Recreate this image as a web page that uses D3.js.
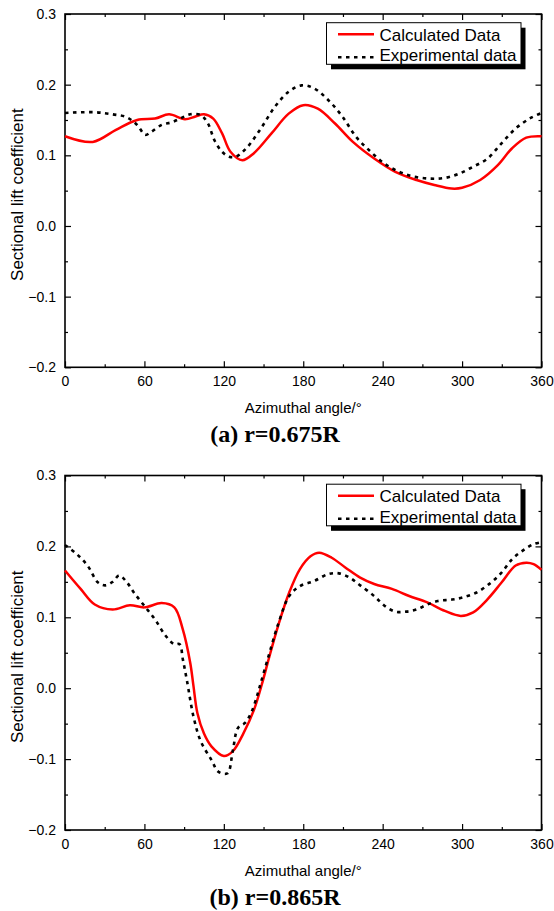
<!DOCTYPE html>
<html>
<head>
<meta charset="utf-8">
<script src="https://cdn.jsdelivr.net/npm/d3@7/dist/d3.min.js"></script>
<style>
  html, body { margin: 0; padding: 0; background: #fff; }
  svg { display: block; }
</style>
</head>
<body>
<svg id="fig" width="554" height="911"></svg>
<script>
// ---- data: sectional lift coefficient vs azimuthal angle ----
const xTicks = [0, 60, 120, 180, 240, 300, 360];
const yTicks = [-0.2, -0.1, 0.0, 0.1, 0.2, 0.3];
const legendLabels = ["Calculated Data", "Experimental data"];
const captions = ["(a) r=0.675R", "(b) r=0.865R"];

// (a) r = 0.675R
const aCalcAngle = [0, 21, 38.5, 54.5, 68, 78.6, 90.6, 98.6, 105, 112, 118.7, 125, 134, 142.7, 156, 169, 180, 191, 204, 217.5, 233.6, 249.6, 265.6, 279, 292, 300, 313.7, 327, 337.8, 348.5, 360];
const aCalcCl    = [0.127, 0.119, 0.136, 0.150, 0.152, 0.158, 0.151, 0.155, 0.158, 0.152, 0.131, 0.105, 0.093, 0.103, 0.131, 0.159, 0.171, 0.166, 0.145, 0.119, 0.0955, 0.0766, 0.065, 0.058, 0.053, 0.054, 0.065, 0.086, 0.110, 0.125, 0.127];
const aExpAngle  = [0, 22.5, 36, 46.5, 54.5, 60.7, 65, 73, 81, 88, 94.6, 102.6, 108, 113, 118.7, 124, 129, 137, 148, 158.7, 169, 178.8, 188, 199, 209.5, 220, 231, 241.6, 252, 263, 276, 287, 297.7, 308.4, 319, 329.8, 340.5, 351, 360];
const aExpCl     = [0.160, 0.161, 0.158, 0.154, 0.143, 0.129, 0.133, 0.143, 0.147, 0.153, 0.158, 0.157, 0.145, 0.121, 0.105, 0.098, 0.098, 0.110, 0.138, 0.169, 0.190, 0.199, 0.195, 0.178, 0.155, 0.126, 0.105, 0.088, 0.077, 0.070, 0.067, 0.068, 0.074, 0.084, 0.095, 0.117, 0.138, 0.152, 0.160];

// (b) r = 0.865R
const bCalcAngle = [0, 11.8, 22.5, 36, 49, 60, 73, 82.6, 89, 94.6, 97, 100, 105, 110.6, 120, 126.7, 134.7, 142.7, 149.4, 153, 161, 169.4, 177.5, 185.5, 192, 201.5, 212, 223, 233.6, 247, 260, 273.7, 287, 299, 308.4, 319, 329.8, 340.5, 348.5, 354, 360];
const bCalcCl    = [0.166, 0.140, 0.118, 0.111, 0.117, 0.114, 0.120, 0.114, 0.083, 0.036, 0.004, -0.035, -0.064, -0.082, -0.0955, -0.089, -0.064, -0.031, 0.010, 0.035, 0.088, 0.135, 0.168, 0.186, 0.191, 0.184, 0.170, 0.156, 0.147, 0.140, 0.130, 0.121, 0.109, 0.102, 0.107, 0.125, 0.149, 0.173, 0.177, 0.175, 0.167];
const bExpAngle  = [0, 9, 17, 25, 30.5, 36, 41, 46.5, 52, 60, 68, 76, 82.6, 86.6, 89, 92, 97.3, 102.6, 110.6, 116, 122.7, 126.7, 130.7, 136, 140.6, 145.4, 148, 153, 161, 169.4, 177.5, 188, 199, 207, 215, 223, 233.6, 241.6, 249.6, 257.7, 265.6, 273.7, 281.7, 292.4, 300.4, 311, 321.8, 329.8, 337.8, 345.8, 353.8, 360];
const bExpCl     = [0.202, 0.189, 0.173, 0.149, 0.145, 0.150, 0.159, 0.150, 0.135, 0.116, 0.097, 0.074, 0.062, 0.062, 0.041, 0.012, -0.042, -0.075, -0.101, -0.118, -0.120, -0.089, -0.056, -0.049, -0.035, -0.009, 0.008, 0.040, 0.090, 0.130, 0.144, 0.151, 0.161, 0.162, 0.156, 0.145, 0.130, 0.116, 0.108, 0.108, 0.111, 0.118, 0.123, 0.125, 0.128, 0.135, 0.149, 0.163, 0.182, 0.194, 0.203, 0.206];

const panels = [
  { top: 14,    bottom: 367.3, calc: [aCalcAngle, aCalcCl], exp: [aExpAngle, aExpCl], caption: captions[0] },
  { top: 475.5, bottom: 830,   calc: [bCalcAngle, bCalcCl], exp: [bExpAngle, bExpCl], caption: captions[1] }
];

const svg = d3.select("#fig");
const left = 65, right = 541.5;
const sans = "Arial, 'Liberation Sans', sans-serif";
const serif = "'Times New Roman', 'Liberation Serif', serif";

panels.forEach(p => {
  const x = d3.scaleLinear().domain([0, 360]).range([left, right]);
  const y = d3.scaleLinear().domain([-0.2, 0.3]).range([p.bottom, p.top]);
  const g = svg.append("g");

  const xMinor = d3.range(30, 360, 60);
  const yMinor = d3.range(-0.15, 0.3, 0.1);

  // inward ticks on all four sides
  const axes = [
    d3.axisBottom(x).tickValues(xTicks).tickSize(-6).tickPadding(9).tickFormat(d3.format("d")),
    d3.axisTop(x).tickValues(xTicks).tickSize(-6).tickFormat(""),
    d3.axisLeft(y).tickValues(yTicks).tickSize(-6).tickPadding(9).tickFormat(d3.format(".1f")),
    d3.axisRight(y).tickValues(yTicks).tickSize(-6).tickFormat("")
  ];
  const minors = [
    d3.axisBottom(x).tickValues(xMinor).tickSize(-3).tickFormat(""),
    d3.axisTop(x).tickValues(xMinor).tickSize(-3).tickFormat(""),
    d3.axisLeft(y).tickValues(yMinor).tickSize(-3).tickFormat(""),
    d3.axisRight(y).tickValues(yMinor).tickSize(-3).tickFormat("")
  ];
  const trans = [
    `translate(0,${p.bottom})`, `translate(0,${p.top})`,
    `translate(${left},0)`, `translate(${right},0)`
  ];
  axes.forEach((a, i) => {
    const ag = g.append("g").attr("transform", trans[i]).call(a);
    ag.select(".domain").remove();
    ag.selectAll(".tick line").attr("stroke", "#000").attr("stroke-width", 1.2);
    ag.selectAll("text").attr("font-family", sans).attr("font-size", 14).attr("fill", "#000");
    g.append("g").attr("transform", trans[i]).call(minors[i])
      .call(s => s.select(".domain").remove())
      .selectAll(".tick line").attr("stroke", "#000").attr("stroke-width", 1.2);
  });

  // frame
  g.append("rect")
    .attr("x", left).attr("y", p.top)
    .attr("width", right - left).attr("height", p.bottom - p.top)
    .attr("fill", "none").attr("stroke", "#000").attr("stroke-width", 1.6);

  const line = d3.line().x(d => x(d[0])).y(d => y(d[1])).curve(d3.curveCatmullRom.alpha(0.5));
  const calcPts = p.calc[0].map((a, i) => [a, p.calc[1][i]]);
  const expPts = p.exp[0].map((a, i) => [a, p.exp[1][i]]);

  g.append("path").attr("d", line(calcPts))
    .attr("fill", "none").attr("stroke", "#ff0000").attr("stroke-width", 2.5);
  g.append("path").attr("d", line(expPts))
    .attr("fill", "none").attr("stroke", "#000").attr("stroke-width", 2.6)
    .attr("stroke-dasharray", "3.5,4.5");

  // legend with drop shadow
  const lx = 326.5, ly = p.top + 8.7, lw = 194.5, lh = 41.6;
  g.append("rect").attr("x", lx + 4.5).attr("y", ly + 5).attr("width", lw).attr("height", lh).attr("fill", "#000");
  g.append("rect").attr("x", lx).attr("y", ly).attr("width", lw).attr("height", lh)
    .attr("fill", "#fff").attr("stroke", "#000").attr("stroke-width", 1);
  g.append("line").attr("x1", 338).attr("x2", 374).attr("y1", ly + 11.6).attr("y2", ly + 11.6)
    .attr("stroke", "#ff0000").attr("stroke-width", 2.5);
  g.append("line").attr("x1", 338).attr("x2", 374).attr("y1", ly + 34.6).attr("y2", ly + 34.6)
    .attr("stroke", "#000").attr("stroke-width", 2.6).attr("stroke-dasharray", "3.5,4.5");
  g.append("text").attr("x", 379.5).attr("y", ly + 18).text(legendLabels[0])
    .attr("font-family", sans).attr("font-size", 17).attr("fill", "#000");
  g.append("text").attr("x", 379.5).attr("y", ly + 38.5).text(legendLabels[1])
    .attr("font-family", sans).attr("font-size", 17).attr("fill", "#000");

  // axis titles
  g.append("text").attr("x", (left + right) / 2).attr("y", p.bottom + 46)
    .attr("text-anchor", "middle").attr("font-family", sans).attr("font-size", 15)
    .text("Azimuthal angle/°");
  g.append("text")
    .attr("transform", `translate(23,${(p.top + p.bottom) / 2 + 4}) rotate(-90)`)
    .attr("text-anchor", "middle").attr("font-family", sans).attr("font-size", 17)
    .text("Sectional lift coefficient");

  // panel caption
  g.append("text").attr("x", 275).attr("y", p.bottom + 75)
    .attr("text-anchor", "middle").attr("font-family", serif).attr("font-weight", "bold")
    .attr("font-size", 24).text(p.caption);
});
</script>
</body>
</html>
